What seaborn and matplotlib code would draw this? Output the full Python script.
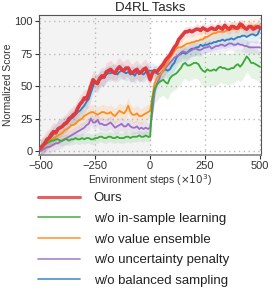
import numpy as np
import pandas as pd
import seaborn as sns
import matplotlib
matplotlib.use("Agg")
import matplotlib.pyplot as plt
from matplotlib.lines import Line2D

sns.set_style("ticks")
plt.rcParams['font.family'] = ['Liberation Sans', 'DejaVu Sans']

steps = list(range(-500, 501, 10))

ours = [2, 4, 6, 9, 10, 13, 15, 14, 17, 18, 19, 21, 22, 25, 26, 28, 29, 33, 36, 38,
        41, 40, 45, 50, 55, 53, 52, 56, 58, 57, 61, 62, 63, 61, 60, 63, 65, 63, 62, 64,
        64, 61, 60, 62, 63, 60, 61, 63, 64, 60, 55,
        60, 62, 61, 63, 65, 67, 70, 72, 74, 77, 80, 82, 86, 88, 90, 92, 92, 93, 92, 93,
        94, 94, 93, 95, 94, 93, 94, 95, 94, 94, 96, 95, 94, 97, 95, 94, 96, 96, 95, 95,
        98, 97, 95, 94, 96, 96, 94, 95, 96, 95]
no_insample = [3, 4, 5, 6, 7, 8, 8, 9, 9, 8, 8, 9, 9, 8, 9, 9, 10, 9, 9, 10,
               9, 10, 10, 9, 9, 10, 10, 11, 11, 10, 10, 11, 11, 10, 10, 11, 10, 10, 10, 11,
               11, 10, 11, 11, 11, 12, 11, 11, 12, 11, 11,
               40, 48, 51, 53, 54, 55, 53, 52, 56, 58, 59, 60, 62, 64, 67, 68, 66, 66, 67, 68,
               68, 67, 64, 62, 61, 63, 62, 62, 63, 62, 64, 65, 64, 64, 63, 63, 64, 64, 66, 67,
               65, 67, 70, 73, 71, 68, 68, 67, 66, 65]
no_ensemble = [2, 3, 5, 6, 8, 9, 10, 11, 12, 13, 14, 16, 17, 18, 20, 20, 21, 23, 24, 25,
               27, 28, 29, 30, 30, 29, 28, 29, 30, 30, 29, 29, 30, 28, 27, 29, 31, 30, 29, 31,
               35, 30, 28, 28, 29, 27, 27, 28, 29, 30, 31,
               42, 52, 56, 58, 60, 62, 66, 68, 72, 74, 77, 79, 80, 80, 81, 82, 83, 83, 84, 84,
               85, 85, 86, 86, 88, 88, 89, 90, 91, 91, 92, 92, 92, 92, 93, 93, 94, 94, 94, 94,
               95, 95, 95, 95, 96, 96, 96, 97, 96, 97]
no_penalty = [0, 1, 2, 3, 3, 4, 5, 6, 6, 7, 8, 9, 10, 11, 12, 13, 14, 15, 16, 17,
              18, 20, 21, 25, 22, 22, 24, 21, 21, 20, 20, 21, 22, 20, 18, 19, 20, 21, 19, 19,
              21, 19, 18, 18, 19, 17, 18, 17, 18, 17, 18,
              30, 45, 52, 55, 60, 62, 64, 66, 68, 70, 72, 73, 74, 76, 77, 76, 76, 77, 78, 79,
              79, 78, 78, 79, 80, 80, 81, 79, 80, 81, 81, 82, 82, 81, 82, 83, 83, 82, 82, 83,
              82, 82, 81, 81, 80, 80, 80, 80, 80, 80]
no_balanced = [2, 4, 5, 7, 9, 11, 13, 15, 17, 18, 19, 20, 21, 23, 25, 26, 28, 30, 31, 33,
               35, 38, 40, 45, 50, 54, 53, 55, 56, 57, 59, 60, 60, 61, 61, 59, 61, 62, 61, 60,
               61, 59, 60, 58, 61, 60, 60, 59, 61, 62, 62,
               62, 61, 60, 59, 60, 62, 63, 62, 63, 66, 68, 72, 74, 75, 76, 75, 76, 78, 79, 79,
               80, 80, 82, 81, 82, 82, 83, 83, 84, 84, 85, 85, 86, 85, 86, 86, 87, 86, 87, 88,
               88, 89, 89, 88, 89, 90, 90, 89, 90, 94]

names = ["Ours", "w/o in-sample learning", "w/o value ensemble",
         "w/o uncertainty penalty", "w/o balanced sampling"]
series = [ours, no_insample, no_ensemble, no_penalty, no_balanced]
# band half-widths (left of 0, right of 0)
spread_left = [7, 4, 6, 5, 6]
spread_right = [4, 12, 6, 5, 6]
colors = ["#e0393e", "#3aa83a", "#ff8c1a", "#9b6fc4", "#2d7fbf"]
widths = [2.6, 1.3, 1.3, 1.3, 1.3]

df = pd.concat([pd.DataFrame({"step": steps, "score": s, "method": n})
                for n, s in zip(names, series)], ignore_index=True)

fig = plt.figure(figsize=(2.74, 2.99), dpi=100)
ax = fig.add_axes([0.1435, 0.482, 0.809, 0.468])
ax.axvspan(-505, 0, color="#f3f3f3", zorder=0, lw=0)

x = np.array(steps)
for n, s, c, sl, sr in zip(names, series, colors, spread_left, spread_right):
    s = np.array(s, dtype=float)
    hw = np.where(x <= 0, sl, sr)
    ax.fill_between(x, s - hw, s + hw, color=c, alpha=0.13, lw=0, zorder=1)

for n in names[::-1]:
    i = names.index(n)
    sns.lineplot(data=df[df.method == n], x="step", y="score", color=colors[i],
                 lw=widths[i], ax=ax, legend=False, zorder=3 if i == 0 else 2)

ax.set_xlim(-505, 505)
ax.set_ylim(-3, 105)
ax.set_xticks([-500, -250, 0, 250, 500])
ax.set_yticks([0, 25, 50, 75, 100])
ax.grid(True, ls=(0, (1, 2.5)), color="#bbbbbb", lw=1.0)
ax.set_axisbelow(True)
for sp in ax.spines.values():
    sp.set_color("#555555")
    sp.set_linewidth(0.8)
ax.spines["bottom"].set_color("#888888")
ax.spines["bottom"].set_linewidth(1.2)
ax.tick_params(labelsize=8, colors="#333333", length=3, width=0.8, pad=1.5)
ax.set_title("D4RL Tasks", fontsize=9.5, color="#222222", pad=3)
ax.set_xlabel(r"Environment steps ($\times 10^3$)", fontsize=7.5, color="#333333", labelpad=1)
ax.set_ylabel("Normalized Score", fontsize=7.5, color="#333333", labelpad=1)

handles = [Line2D([0], [0], color=c, lw=(2.2 if i == 0 else w), alpha=0.8)
           for i, (c, w) in enumerate(zip(colors, widths))]
leg = fig.legend(handles, names, loc="upper left", bbox_to_anchor=(0.12, 0.375),
                 frameon=False, fontsize=9.5, handlelength=3.2, handletextpad=1.0,
                 labelspacing=0.64, borderaxespad=0)
for t in leg.get_texts():
    t.set_color("#222222")

fig.savefig("out.png", dpi=100)
